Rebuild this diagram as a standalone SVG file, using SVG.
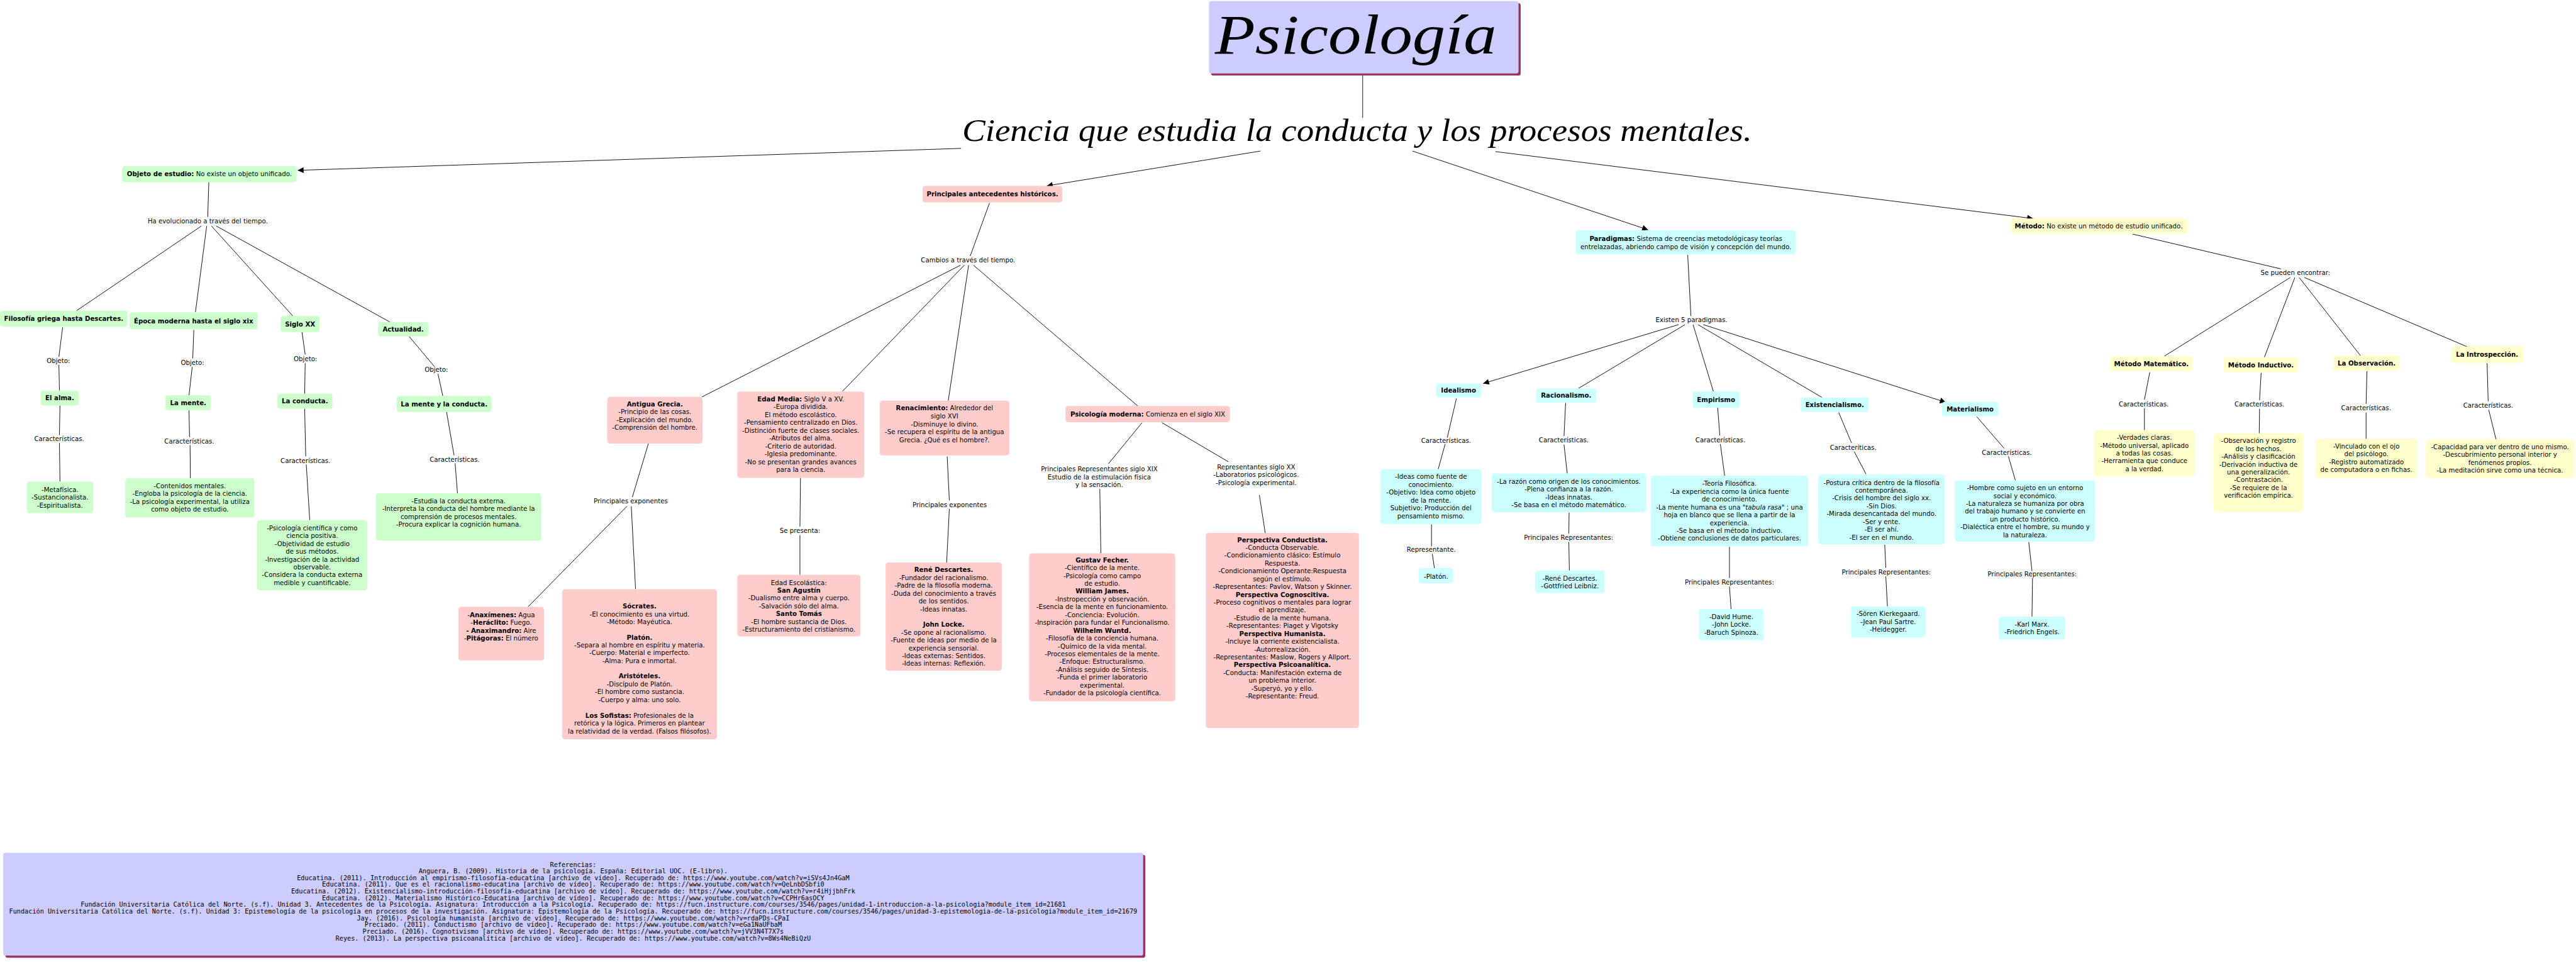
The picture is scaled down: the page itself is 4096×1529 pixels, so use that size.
<svg xmlns="http://www.w3.org/2000/svg" width="4096" height="1529" viewBox="0 0 4096 1529">
<defs>
<style>
text{font-family:"DejaVu Sans",Verdana,sans-serif;font-size:12px;fill:#000;text-anchor:middle}
.b{font-weight:bold}
.i{font-style:italic}
.g{fill:#ccffcc}.p{fill:#ffcccc}.c{fill:#ccffff}.y{fill:#ffffcc}.v{fill:#ccccff}.sh{fill:#993366}
#connectors line{stroke:#000;stroke-width:1.1}
.arr{marker-end:url(#ah)}
.mono{font-family:"DejaVu Sans Mono","Liberation Mono",monospace;font-size:12px}
.ttl{font-family:"Liberation Serif","Times New Roman",serif;font-style:italic}
.t1{font-size:104px;text-anchor:start}
.t2{font-size:60px;text-anchor:start}
</style>
<marker id="ah" viewBox="0 0 10 10" refX="10" refY="5" markerWidth="15" markerHeight="11" markerUnits="userSpaceOnUse" orient="auto"><path d="M0,0L10,5L0,10z" fill="#000"/></marker>
</defs>
<rect width="4096" height="1529" fill="#fff"/>
<g transform="scale(0.85138)">

<g id="connectors">
<line x1="2545" y1="141" x2="2545" y2="220"/>
<line class="arr" x1="1795" y1="277" x2="556" y2="318"/>
<line class="arr" x1="2354" y1="282" x2="1955" y2="347"/>
<line class="arr" x1="2638" y1="282" x2="3078" y2="429"/>
<line class="arr" x1="2793" y1="283" x2="3797" y2="408"/>
<line x1="390" y1="340" x2="388" y2="405"/>
<line x1="376" y1="422" x2="143" y2="580"/>
<line x1="386" y1="422" x2="365" y2="583"/>
<line x1="395" y1="422" x2="547" y2="590"/>
<line x1="404" y1="422" x2="728" y2="601"/>
<line x1="117" y1="611" x2="110" y2="666"/>
<line x1="110" y1="681" x2="111" y2="729"/>
<line x1="362" y1="616" x2="360" y2="669"/>
<line x1="359" y1="685" x2="353" y2="738"/>
<line x1="564" y1="620" x2="570" y2="662"/>
<line x1="570" y1="678" x2="569" y2="735"/>
<line x1="764" y1="628" x2="811" y2="684"/>
<line x1="818" y1="698" x2="827" y2="739"/>
<line x1="112" y1="757" x2="111" y2="812"/>
<line x1="111" y1="827" x2="112" y2="899"/>
<line x1="353" y1="766" x2="354" y2="816"/>
<line x1="355" y1="831" x2="355.6" y2="893"/>
<line x1="569" y1="763" x2="571" y2="852"/>
<line x1="572" y1="867" x2="578.5" y2="971"/>
<line x1="834" y1="769" x2="848" y2="850"/>
<line x1="850" y1="865" x2="854.4" y2="921"/>
<line x1="1848" y1="379" x2="1812" y2="478"/>
<line x1="1794" y1="495" x2="1311" y2="741"/>
<line x1="1801" y1="495" x2="1573" y2="731"/>
<line x1="1809" y1="495" x2="1771" y2="748"/>
<line x1="1818" y1="495" x2="2125" y2="758"/>
<line x1="1211" y1="828" x2="1181" y2="928"/>
<line x1="1171" y1="945" x2="986" y2="1133"/>
<line x1="1179" y1="945" x2="1187" y2="1100"/>
<line x1="1495" y1="892" x2="1494" y2="983"/>
<line x1="1494" y1="999" x2="1494" y2="1073"/>
<line x1="1769" y1="852" x2="1773" y2="934"/>
<line x1="1773" y1="950" x2="1768" y2="1050"/>
<line x1="2133" y1="789" x2="2070" y2="866"/>
<line x1="2170" y1="789" x2="2294" y2="862"/>
<line x1="2054" y1="913" x2="2056" y2="1033"/>
<line x1="2352" y1="924" x2="2363" y2="995"/>
<line x1="3152" y1="476" x2="3158" y2="590"/>
<line class="arr" x1="3135" y1="606" x2="2770" y2="716"/>
<line x1="3147" y1="606" x2="2948" y2="725"/>
<line x1="3162" y1="606" x2="3200" y2="731"/>
<line x1="3171" y1="606" x2="3403" y2="742"/>
<line class="arr" x1="3181" y1="606" x2="3634" y2="751"/>
<line x1="2720" y1="744" x2="2703" y2="817"/>
<line x1="2699" y1="829" x2="2686" y2="876"/>
<line x1="2673.5" y1="979" x2="2673.5" y2="1020"/>
<line x1="2675" y1="1034" x2="2679" y2="1061"/>
<line x1="2924" y1="752" x2="2921" y2="814"/>
<line x1="2921" y1="830" x2="2927" y2="884"/>
<line x1="2930.5" y1="957" x2="2930" y2="996"/>
<line x1="2930" y1="1012" x2="2931" y2="1065"/>
<line x1="3208" y1="761" x2="3212" y2="813"/>
<line x1="3213" y1="829" x2="3221" y2="888"/>
<line x1="3230" y1="1021" x2="3230" y2="1079"/>
<line x1="3230" y1="1095" x2="3233" y2="1137"/>
<line x1="3434" y1="770" x2="3458" y2="827"/>
<line x1="3463" y1="843" x2="3485" y2="885"/>
<line x1="3520" y1="1017" x2="3522" y2="1060"/>
<line x1="3522" y1="1076" x2="3525" y2="1132"/>
<line x1="3692" y1="778" x2="3743" y2="837"/>
<line x1="3751" y1="852" x2="3764" y2="897"/>
<line x1="3789" y1="1012" x2="3795" y2="1066"/>
<line x1="3796" y1="1079" x2="3795" y2="1151"/>
<line x1="3983" y1="437" x2="4260" y2="502"/>
<line x1="4277.5" y1="518" x2="4042" y2="665"/>
<line x1="4286" y1="518" x2="4229" y2="667"/>
<line x1="4294" y1="518" x2="4408.6" y2="664"/>
<line x1="4303.7" y1="518" x2="4607" y2="647"/>
<line x1="4015" y1="695" x2="4005" y2="746"/>
<line x1="4005" y1="762" x2="4005" y2="803"/>
<line x1="4223" y1="696" x2="4220" y2="747"/>
<line x1="4220" y1="763" x2="4219.4" y2="809"/>
<line x1="4420.6" y1="693" x2="4419" y2="754"/>
<line x1="4419" y1="770" x2="4419" y2="819"/>
<line x1="4645" y1="678" x2="4647" y2="749"/>
<line x1="4648" y1="765" x2="4661.6" y2="820"/>
</g>

<g id="n-psicologia">
<rect class="sh" x="2262" y="6" width="578" height="135" rx="4"/>
<rect class="v" x="2258" y="2" width="578" height="135" rx="4"/>
<text class="ttl t1" x="2269" y="100" textLength="526" lengthAdjust="spacingAndGlyphs">Psicología</text>
</g>
<g id="n-ciencia">
<text class="ttl t2" x="1797" y="263" textLength="1475" lengthAdjust="spacingAndGlyphs">Ciencia que estudia la conducta y los procesos mentales.</text>
</g>

<g id="n-objeto"><rect class="g" x="228" y="310" width="326" height="30" rx="5"/><text x="391" y="329"><tspan class="b">Objeto de estudio:</tspan> No existe un objeto unificado.</text></g>
<g id="l-evoluciona"><text x="388" y="417.5">Ha evolucionado a través del tiempo.</text></g>
<g id="n-filosofia"><rect class="g" x="0" y="580" width="238" height="30" rx="5"/><text class="b" x="119" y="599.3">Filosofía griega hasta Descartes.</text></g>
<g id="n-epoca"><rect class="g" x="242" y="583" width="239" height="32" rx="5"/><text class="b" x="361.5" y="603.3">Época moderna hasta el siglo xix</text></g>
<g id="n-sigloxx"><rect class="g" x="524" y="590" width="73" height="30" rx="5"/><text class="b" x="560.5" y="609.3">Siglo XX</text></g>
<g id="n-actualidad"><rect class="g" x="706" y="601" width="94" height="27" rx="5"/><text class="b" x="753" y="618.8">Actualidad.</text></g>
<g id="l-objeto1"><text x="109" y="677.6">Objeto:</text></g>
<g id="l-objeto2"><text x="359.6" y="681">Objeto:</text></g>
<g id="l-objeto3"><text x="570.5" y="674.3">Objeto:</text></g>
<g id="l-objeto4"><text x="815" y="694.3">Objeto:</text></g>
<g id="n-alma"><rect class="g" x="76" y="729" width="71" height="28" rx="5"/><text class="b" x="111.5" y="747.3">El alma.</text></g>
<g id="n-mente"><rect class="g" x="309" y="738" width="85" height="28" rx="5"/><text class="b" x="351.5" y="756.3">La mente.</text></g>
<g id="n-conducta"><rect class="g" x="518" y="735" width="103" height="28" rx="5"/><text class="b" x="569.5" y="753.3">La conducta.</text></g>
<g id="n-menteconducta"><rect class="g" x="741" y="739" width="177" height="30" rx="5"/><text class="b" x="829.5" y="758.3">La mente y la conducta.</text></g>
<g id="l-car1"><text x="110.5" y="823.3">Características.</text></g>
<g id="l-car2"><text x="353.5" y="828">Características.</text></g>
<g id="l-car3"><text x="570.5" y="864.3">Características.</text></g>
<g id="l-car4"><text x="849" y="862">Características.</text></g>
<g id="n-metafisica"><rect class="g" x="50" y="899" width="124" height="59" rx="5"/><text x="112"><tspan x="112" y="918">-Metafísica.</tspan><tspan x="112" y="932.6">-Sustancionalista.</tspan><tspan x="112" y="947.3">-Espiritualista.</tspan></text></g>
<g id="n-contenidos"><rect class="g" x="234" y="893" width="241" height="73" rx="5"/><text x="354.5"><tspan x="354.5" y="911.3">-Contenidos mentales.</tspan><tspan x="354.5" y="926">-Engloba la psicología de la ciencia.</tspan><tspan x="354.5" y="940.6">-La psicología experimental, la utiliza</tspan><tspan x="354.5" y="955.3">como objeto de estudio.</tspan></text></g>
<g id="n-cientifica"><rect class="g" x="480" y="971" width="206" height="131" rx="5"/><text x="583"><tspan x="583" y="990">-Psicología científica y como</tspan><tspan x="583" y="1004.6">ciencia positiva.</tspan><tspan x="583" y="1019.1">-Objetividad de estudio</tspan><tspan x="583" y="1033.7">de sus métodos.</tspan><tspan x="583" y="1048.3">-Investigación de la actividad</tspan><tspan x="583" y="1062.9">observable.</tspan><tspan x="583" y="1077.5">-Considera la conducta externa</tspan><tspan x="583" y="1092">medible y cuantificable.</tspan></text></g>
<g id="n-estudia"><rect class="g" x="702" y="921" width="309" height="88" rx="5"/><text x="856.5"><tspan x="856.5" y="939.3">-Estudia la conducta externa.</tspan><tspan x="856.5" y="954">-Interpreta la conducta del hombre mediante la</tspan><tspan x="856.5" y="968.6">comprensión de procesos mentales.</tspan><tspan x="856.5" y="983.3">-Procura explicar la cognición humana.</tspan></text></g>

<g id="n-antecedentes"><rect class="p" x="1723" y="347" width="261" height="31" rx="5"/><text class="b" x="1853.5" y="366.8">Principales antecedentes históricos.</text></g>
<g id="l-cambios"><text x="1808" y="490.2">Cambios a través del tiempo.</text></g>
<g id="n-grecia"><rect class="p" x="1134" y="741" width="178" height="87" rx="5"/><text x="1223"><tspan class="b" x="1223" y="758.3">Antigua Grecia.</tspan><tspan x="1223" y="773.3">-Principio de las cosas.</tspan><tspan x="1223" y="787.8">-Explicación del mundo.</tspan><tspan x="1223" y="802.3">-Comprensión del hombre.</tspan></text></g>
<g id="n-edadmedia"><rect class="p" x="1377" y="731" width="237" height="161" rx="5"/><text x="1495.5"><tspan x="1495.5" y="749.1"><tspan class="b">Edad Media:</tspan> Siglo V a XV.</tspan><tspan x="1495.5" y="763.8">-Europa dividida.</tspan><tspan x="1495.5" y="778.4">El método escolástico.</tspan><tspan x="1495.5" y="793.1">-Pensamiento centralizado en Dios.</tspan><tspan x="1495.5" y="807.8">-Distinción fuerte de clases sociales.</tspan><tspan x="1495.5" y="822.5">-Atributos del alma.</tspan><tspan x="1495.5" y="837.1">-Criterio de autoridad.</tspan><tspan x="1495.5" y="851.8">-Iglesia predominante.</tspan><tspan x="1495.5" y="866.5">-No se presentan grandes avances</tspan><tspan x="1495.5" y="881.1">para la ciencia.</tspan></text></g>
<g id="n-renacimiento"><rect class="p" x="1643" y="748" width="242" height="102" rx="5"/><text x="1764"><tspan x="1764" y="766.3"><tspan class="b">Renacimiento:</tspan> Alrededor del</tspan><tspan x="1764" y="781.3">siglo XVI</tspan><tspan x="1764" y="795.8">-Disminuye lo divino.</tspan><tspan x="1764" y="810.3">-Se recupera el espíritu de la antigua</tspan><tspan x="1764" y="825.3">Grecia. ¿Qué es el hombre?.</tspan></text></g>
<g id="n-moderna"><rect class="p" x="1990" y="758" width="307" height="30" rx="5"/><text x="2143.5" y="777.3"><tspan class="b">Psicología moderna:</tspan> Comienza en el siglo XIX</text></g>
<g id="l-exp1"><text x="1178" y="940.1">Principales exponentes</text></g>
<g id="n-anaximenes"><rect class="p" x="856" y="1133" width="160" height="100" rx="5"/><text x="936"><tspan x="936" y="1152">-<tspan class="b">Anaxímenes:</tspan> Agua</tspan><tspan x="936" y="1166.6">-<tspan class="b">Heráclito:</tspan> Fuego.</tspan><tspan x="936" y="1181.3"><tspan class="b">- Anaximandro:</tspan> Aire</tspan><tspan x="936" y="1196">-<tspan class="b">Pitágoras:</tspan> El número</tspan></text></g>
<g id="n-socrates"><rect class="p" x="1050" y="1100" width="289" height="280" rx="5"/><text x="1194.5"><tspan class="b" x="1194.5" y="1135.8">Sócrates.</tspan><tspan x="1194.5" y="1150.6">-El conocimiento es una virtud.</tspan><tspan x="1194.5" y="1164.9">-Método: Mayéutica.</tspan><tspan class="b" x="1194.5" y="1194.1">Platón.</tspan><tspan x="1194.5" y="1208.8">-Separa al hombre en espíritu y materia.</tspan><tspan x="1194.5" y="1223.2">-Cuerpo: Material e imperfecto.</tspan><tspan x="1194.5" y="1237.9">-Alma: Pura e inmortal.</tspan><tspan class="b" x="1194.5" y="1266.7">Aristóteles.</tspan><tspan x="1194.5" y="1281.4">-Discípulo de Platón.</tspan><tspan x="1194.5" y="1296.1">-El hombre como sustancia.</tspan><tspan x="1194.5" y="1310.9">-Cuerpo y alma: uno solo.</tspan><tspan x="1194.5" y="1340"><tspan class="b">Los Sofistas:</tspan> Profesionales de la</tspan><tspan x="1194.5" y="1354.7">retórica y la lógica. Primeros en plantear</tspan><tspan x="1194.5" y="1369.5">la relatividad de la verdad. (Falsos filósofos).</tspan></text></g>
<g id="l-presenta"><text x="1494" y="995.3">Se presenta:</text></g>
<g id="n-escolastica"><rect class="p" x="1377" y="1073" width="230" height="115" rx="5"/><text x="1492"><tspan x="1492" y="1092">Edad Escolástica:</tspan><tspan class="b" x="1492" y="1106.7">San Agustín</tspan><tspan x="1492" y="1121.1">-Dualismo entre alma y cuerpo.</tspan><tspan x="1492" y="1135.8">-Salvación sólo del alma.</tspan><tspan class="b" x="1492" y="1150.2">Santo Tomás</tspan><tspan x="1492" y="1164.9">-El hombre sustancia de Dios.</tspan><tspan x="1492" y="1179.3">-Estructuramiento del cristianismo.</tspan></text></g>
<g id="l-exp2"><text x="1773.6" y="946.3">Principales exponentes</text></g>
<g id="n-descartes"><rect class="p" x="1654" y="1050" width="217" height="202" rx="5"/><text x="1762.5"><tspan class="b" x="1762.5" y="1067.8">René Descartes.</tspan><tspan x="1762.5" y="1082.5">-Fundador del racionalismo.</tspan><tspan x="1762.5" y="1097.2">-Padre de la filosofía moderna.</tspan><tspan x="1762.5" y="1112">-Duda del conocimiento a través</tspan><tspan x="1762.5" y="1126.3">de los sentidos.</tspan><tspan x="1762.5" y="1141.1">-Ideas innatas.</tspan><tspan class="b" x="1762.5" y="1170.2">John Locke.</tspan><tspan x="1762.5" y="1184.9">-Se opone al racionalismo.</tspan><tspan x="1762.5" y="1199.3">-Fuente de ideas por medio de la</tspan><tspan x="1762.5" y="1214.1">experiencia sensorial.</tspan><tspan x="1762.5" y="1228.4">-Ideas externas: Sentidos.</tspan><tspan x="1762.5" y="1243.2">-Ideas internas: Reflexión.</tspan></text></g>
<g id="l-xix"><text x="2053"><tspan x="2053" y="879.7">Principales Representantes siglo XIX</tspan><tspan x="2053" y="894.9">Estudio de la estimulación física</tspan><tspan x="2053" y="909.6">y la sensación.</tspan></text></g>
<g id="l-xx"><text x="2346"><tspan x="2346" y="875.7">Representantes siglo XX</tspan><tspan x="2346" y="890.5">-Laboratorios psicológicos.</tspan><tspan x="2346" y="905.2">-Psicología experimental.</tspan></text></g>
<g id="n-fechner"><rect class="p" x="1922" y="1033" width="273" height="276" rx="5"/><text x="2058.5"><tspan class="b" x="2058.5" y="1049.8">Gustav Fecher.</tspan><tspan x="2058.5" y="1064.4">-Científico de la mente.</tspan><tspan x="2058.5" y="1079">-Psicología como campo</tspan><tspan x="2058.5" y="1093.6">de estudio.</tspan><tspan class="b" x="2058.5" y="1108.2">William James.</tspan><tspan x="2058.5" y="1122.8">-Instropección y observación.</tspan><tspan x="2058.5" y="1137.4">-Esencia de la mente en funcionamiento.</tspan><tspan x="2058.5" y="1152">-Conciencia: Evolución.</tspan><tspan x="2058.5" y="1166.6">-Inspiración para fundar el Funcionalismo.</tspan><tspan class="b" x="2058.5" y="1181.2">Wilhelm Wuntd.</tspan><tspan x="2058.5" y="1195.8">-Filosofía de la conciencia humana.</tspan><tspan x="2058.5" y="1210.4">-Químico de la vida mental.</tspan><tspan x="2058.5" y="1225">-Procesos elementales de la mente.</tspan><tspan x="2058.5" y="1239.6">-Enfoque: Estructuralismo.</tspan><tspan x="2058.5" y="1254.2">-Análisis seguido de Síntesis.</tspan><tspan x="2058.5" y="1268.8">-Funda el primer laboratorio</tspan><tspan x="2058.5" y="1283.4">experimental.</tspan><tspan x="2058.5" y="1298">-Fundador de la psicología científica.</tspan></text></g>
<g id="n-perspectivas"><rect class="p" x="2252" y="995" width="286" height="364" rx="5"/><text x="2395"><tspan class="b" x="2395" y="1011.9">Perspectiva Conductista.</tspan><tspan x="2395" y="1026.5">-Conducta Observable.</tspan><tspan x="2395" y="1041.1">-Condicionamiento clásico: Estímulo</tspan><tspan x="2395" y="1055.7">Respuesta.</tspan><tspan x="2395" y="1070.3">-Condicionamiento Operante:Respuesta</tspan><tspan x="2395" y="1084.9">según el estímulo.</tspan><tspan x="2395" y="1099.5">-Representantes: Pavlov, Watson y Skinner.</tspan><tspan class="b" x="2395" y="1114.1">Perspectiva Cognoscitiva.</tspan><tspan x="2395" y="1128.7">-Proceso cognitivos o mentales para lograr</tspan><tspan x="2395" y="1143.3">el aprendizaje.</tspan><tspan x="2395" y="1157.9">-Estudio de la mente humana.</tspan><tspan x="2395" y="1172.5">-Representantes: Piaget y Vigotsky</tspan><tspan class="b" x="2395" y="1187.1">Perspectiva Humanista.</tspan><tspan x="2395" y="1201.7">-Incluye la corriente existencialista.</tspan><tspan x="2395" y="1216.3">-Autorrealización.</tspan><tspan x="2395" y="1230.9">-Representantes: Maslow, Rogers y Allport.</tspan><tspan class="b" x="2395" y="1245.5">Perspectiva Psicoanalítica.</tspan><tspan x="2395" y="1260.1">-Conducta: Manifestación externa de</tspan><tspan x="2395" y="1274.7">un problema interior.</tspan><tspan x="2395" y="1289.3">-Superyó, yo y ello.</tspan><tspan x="2395" y="1303.9">-Representante: Freud.</tspan></text></g>

<g id="n-paradigmas"><rect class="c" x="2943" y="430" width="411" height="45" rx="5"/><text x="3148.5"><tspan x="3148.5" y="450.3"><tspan class="b">Paradigmas:</tspan> Sistema de creencias metodológicasy teorías</tspan><tspan x="3148.5" y="465">entrelazadas, abriendo campo de visión y concepción del mundo.</tspan></text></g>
<g id="l-existen"><text x="3159" y="601.8">Existen 5 paradigmas.</text></g>
<g id="n-idealismo"><rect class="c" x="2682" y="716" width="84" height="26" rx="5"/><text class="b" x="2724" y="733.3">Idealismo</text></g>
<g id="n-racionalismo"><rect class="c" x="2869" y="725" width="112" height="27" rx="5"/><text class="b" x="2925" y="742.8">Racionalismo.</text></g>
<g id="n-empirismo"><rect class="c" x="3161" y="731" width="88" height="30" rx="5"/><text class="b" x="3205" y="750.3">Empirismo</text></g>
<g id="n-existencialismo"><rect class="c" x="3363" y="742" width="127" height="27" rx="5"/><text class="b" x="3426.5" y="759.8">Existencialismo.</text></g>
<g id="n-materialismo"><rect class="c" x="3627" y="750" width="105" height="27" rx="5"/><text class="b" x="3679.5" y="767.8">Materialismo</text></g>
<g id="l-car5"><text x="2700.7" y="827.3">Características.</text></g>
<g id="l-car6"><text x="2920.5" y="826.3">Características.</text></g>
<g id="l-car7"><text x="3213" y="825.3">Características.</text></g>
<g id="l-car8"><text x="3461" y="839.3">Caracteríticas.</text></g>
<g id="l-car9"><text x="3748" y="849.3">Características.</text></g>
<g id="n-ideas"><rect class="c" x="2578" y="876" width="189" height="102" rx="5"/><text x="2672.5"><tspan x="2672.5" y="894.3">-Ideas como fuente de</tspan><tspan x="2672.5" y="909">conocimiento.</tspan><tspan x="2672.5" y="923.6">-Objetivo: Idea como objeto</tspan><tspan x="2672.5" y="938.3">de la mente.</tspan><tspan x="2672.5" y="953">Subjetivo: Producción del</tspan><tspan x="2672.5" y="967.6">pensamiento mismo.</tspan></text></g>
<g id="l-representante"><text x="2673" y="1030">Representante.</text></g>
<g id="n-platon"><rect class="c" x="2649.5" y="1060.7" width="64.5" height="28" rx="5"/><text x="2682" y="1080.3">-Platón.</text></g>
<g id="n-razon"><rect class="c" x="2786" y="884" width="288" height="72" rx="5"/><text x="2930"><tspan x="2930" y="903.3">-La razón como origen de los conocimientos.</tspan><tspan x="2930" y="917.6">-Plena confianza a la razón.</tspan><tspan x="2930" y="932.3">-Ideas innatas.</tspan><tspan x="2930" y="947">-Se basa en el método matemático.</tspan></text></g>
<g id="l-rep1"><text x="2929.5" y="1008.3">Principales Representantes:</text></g>
<g id="n-rep-racionalismo"><rect class="c" x="2867" y="1065" width="130" height="42" rx="5"/><text x="2932"><tspan x="2932" y="1084">-René Descartes.</tspan><tspan x="2932" y="1098.6">-Gottfried Leibniz.</tspan></text></g>
<g id="n-teoria"><rect class="c" x="3083" y="888" width="294" height="132" rx="5"/><text x="3230"><tspan x="3230" y="907">-Teoría Filosófica.</tspan><tspan x="3230" y="921.6">-La experiencia como la única fuente</tspan><tspan x="3230" y="936.3">de conocimiento.</tspan><tspan x="3230" y="951">-La mente humana es una <tspan class="i">"tabula rasa"</tspan> ; una</tspan><tspan x="3230" y="965.6">hoja en blanco que se llena a partir de la</tspan><tspan x="3230" y="980.3">experiencia.</tspan><tspan x="3230" y="994.6">-Se basa en el método inductivo.</tspan><tspan x="3230" y="1009.3">-Obtiene conclusiones de datos particulares.</tspan></text></g>
<g id="l-rep2"><text x="3230" y="1091.3">Principales Representantes:</text></g>
<g id="n-rep-empirismo"><rect class="c" x="3173" y="1137" width="121" height="58" rx="5"/><text x="3233.5"><tspan x="3233.5" y="1155.3">-David Hume.</tspan><tspan x="3233.5" y="1170">-John Locke.</tspan><tspan x="3233.5" y="1184.6">-Baruch Spinoza.</tspan></text></g>
<g id="n-postura"><rect class="c" x="3396" y="886" width="236" height="130" rx="5"/><text x="3514"><tspan x="3514" y="905.3">-Postura crítica dentro de la filosofía</tspan><tspan x="3514" y="920">contemporánea.</tspan><tspan x="3514" y="934.3">-Crisis del hombre del siglo xx.</tspan><tspan x="3514" y="949">-Sin Dios.</tspan><tspan x="3514" y="963.6">-Mirada desencantada del mundo.</tspan><tspan x="3514" y="978.3">-Ser y ente.</tspan><tspan x="3514" y="992.6">-El ser ahí.</tspan><tspan x="3514" y="1007.3">-El ser en el mundo.</tspan></text></g>
<g id="l-rep3"><text x="3523" y="1072.3">Principales Representantes:</text></g>
<g id="n-rep-existencialismo"><rect class="c" x="3457" y="1132" width="139" height="58" rx="5"/><text x="3526.5"><tspan x="3526.5" y="1150">-Sören Kierkegaard.</tspan><tspan x="3526.5" y="1165">-Jean Paul Sartre.</tspan><tspan x="3526.5" y="1179.6">-Heidegger.</tspan></text></g>
<g id="n-hombre"><rect class="c" x="3651" y="897" width="262" height="114" rx="5"/><text x="3782"><tspan x="3782" y="915.3">-Hombre como sujeto en un entorno</tspan><tspan x="3782" y="930">social y económico.</tspan><tspan x="3782" y="944.3">-La naturaleza se humaniza por obra</tspan><tspan x="3782" y="959">del trabajo humano y se convierte en</tspan><tspan x="3782" y="973.6">un producto histórico.</tspan><tspan x="3782" y="988">-Dialéctica entre el hombre, su mundo y</tspan><tspan x="3782" y="1002.6">la naturaleza.</tspan></text></g>
<g id="l-rep4"><text x="3795.5" y="1076">Principales Representantes:</text></g>
<g id="n-rep-materialismo"><rect class="c" x="3733" y="1151" width="124" height="43" rx="5"/><text x="3795"><tspan x="3795" y="1169.3">-Karl Marx.</tspan><tspan x="3795" y="1184">-Friedrich Engels.</tspan></text></g>

<g id="n-metodo"><rect class="y" x="3755" y="408" width="331" height="28" rx="5"/><text x="3919.5" y="426.8"><tspan class="b">Método:</tspan> No existe un método de estudio unificado.</text></g>
<g id="l-pueden"><text x="4287" y="513.7">Se pueden encontrar:</text></g>
<g id="n-matematico"><rect class="y" x="3941" y="665" width="154" height="28" rx="5"/><text class="b" x="4018" y="683.3">Método Matemático.</text></g>
<g id="n-inductivo"><rect class="y" x="4153" y="667" width="139" height="28" rx="5"/><text class="b" x="4222.6" y="685.9">Método Inductivo.</text></g>
<g id="n-observacion"><rect class="y" x="4358" y="664" width="124" height="28" rx="5"/><text class="b" x="4420" y="682.8">La Observación.</text></g>
<g id="n-introspeccion"><rect class="y" x="4578" y="647" width="135" height="30" rx="5"/><text class="b" x="4645" y="666">La Introspección.</text></g>
<g id="l-car10"><text x="4003.6" y="758.2">Características.</text></g>
<g id="l-car11"><text x="4219.7" y="759.3">Características.</text></g>
<g id="l-car12"><text x="4419" y="765.9">Características.</text></g>
<g id="l-car13"><text x="4647" y="761.3">Características.</text></g>
<g id="n-verdades"><rect class="y" x="3911" y="803" width="188" height="86" rx="5"/><text x="4005"><tspan x="4005" y="821">-Verdades claras.</tspan><tspan x="4005" y="835.9">-Método universal, aplicado</tspan><tspan x="4005" y="850.3">a todas las cosas.</tspan><tspan x="4005" y="865">-Herramienta que conduce</tspan><tspan x="4005" y="879.9">a la verdad.</tspan></text></g>
<g id="n-registro"><rect class="y" x="4134" y="809" width="168" height="147" rx="5"/><text x="4218"><tspan x="4218" y="827.1">-Observación y registro</tspan><tspan x="4218" y="841.6">de los hechos.</tspan><tspan x="4218" y="856.2">-Análisis y clasificación</tspan><tspan x="4218" y="871.1">-Derivación inductiva de</tspan><tspan x="4218" y="885.6">una generalización.</tspan><tspan x="4218" y="900.2">-Contrastación.</tspan><tspan x="4218" y="914.7">-Se requiere de la</tspan><tspan x="4218" y="929.3">verificación empírica.</tspan></text></g>
<g id="n-vinculado"><rect class="y" x="4325" y="819" width="189" height="74" rx="5"/><text x="4419.5"><tspan x="4419.5" y="837.3">-Vinculado con el ojo</tspan><tspan x="4419.5" y="851.9">del psicólogo.</tspan><tspan x="4419.5" y="866.9">-Registro automatizado</tspan><tspan x="4419.5" y="881.3">de computadora o en fichas.</tspan></text></g>
<g id="n-capacidad"><rect class="y" x="4530" y="820" width="278" height="72" rx="5"/><text x="4669"><tspan x="4669" y="838.9">-Capacidad para ver dentro de uno mismo.</tspan><tspan x="4669" y="853.1">-Descubrimiento personal interior y</tspan><tspan x="4669" y="867.7">fenómenos propios.</tspan><tspan x="4669" y="882.2">-La meditación sirve como una técnica.</tspan></text></g>

<g id="n-referencias">
<rect class="sh" x="10" y="1596" width="2129" height="192" rx="4"/>
<rect class="v" x="6" y="1592" width="2129" height="192" rx="4"/>
<text class="mono" x="1070.5"><tspan x="1070.5" y="1618">Referencias:</tspan><tspan x="1070.5" y="1630.5">Anguera, B. (2009). Historia de la psicología. España: Editorial UOC. (E-libro).</tspan><tspan x="1070.5" y="1643">Educatina. (2011). Introducción al empirismo-filosofía-educatina [archivo de vídeo]. Recuperado de: https://www.youtube.com/watch?v=iSVs4Jn4GaM</tspan><tspan x="1070.5" y="1655.5">Educatina. (2011). Que es el racionalismo-educatina [archivo de vídeo]. Recuperado de: https://www.youtube.com/watch?v=QeLnbDSbfi0</tspan><tspan x="1070.5" y="1668">Educatina. (2012). Existencialismo-introducción-filosofía-educatina [archivo de vídeo]. Recuperado de: https://www.youtube.com/watch?v=r4iHjjbhFrk</tspan><tspan x="1070.5" y="1680.5">Educatina. (2012). Materialismo Histórico-Educatina [archivo de vídeo]. Recuperado de: https://www.youtube.com/watch?v=CCPHr6asOCY</tspan><tspan x="1070.5" y="1693">Fundación Universitaria Católica del Norte. (s.f). Unidad 3. Antecedentes de la Psicología. Asignatura: Introducción a la Psicología. Recuperado de: https://fucn.instructure.com/courses/3546/pages/unidad-1-introduccion-a-la-psicologia?module_item_id=21681</tspan><tspan x="1070.5" y="1705.5">Fundación Universitaria Católica del Norte. (s.f). Unidad 3: Epistemología de la psicología en procesos de la investigación. Asignatura: Epistemología de la Psicología. Recuperado de: https://fucn.instructure.com/courses/3546/pages/unidad-3-epistemologia-de-la-psicologia?module_item_id=21679</tspan><tspan x="1070.5" y="1718">Jay. (2016). Psicología humanista [archivo de vídeo]. Recuperado de: https://www.youtube.com/watch?v=rdaPDs-CPaI</tspan><tspan x="1070.5" y="1730.5">Preciado. (2011). Conductismo [archivo de vídeo]. Recuperado de: https://www.youtube.com/watch?v=eGa1NaUFbaM</tspan><tspan x="1070.5" y="1743">Preciado. (2016). Cognotivismo [archivo de vídeo]. Recuperado de: https://www.youtube.com/watch?v=jVV3N4T7X7s</tspan><tspan x="1070.5" y="1755.5">Reyes. (2013). La perspectiva psicoanalítica [archivo de vídeo]. Recuperado de: https://www.youtube.com/watch?v=8Ws4NeBiQzU</tspan></text>
</g>

</g>
</svg>
